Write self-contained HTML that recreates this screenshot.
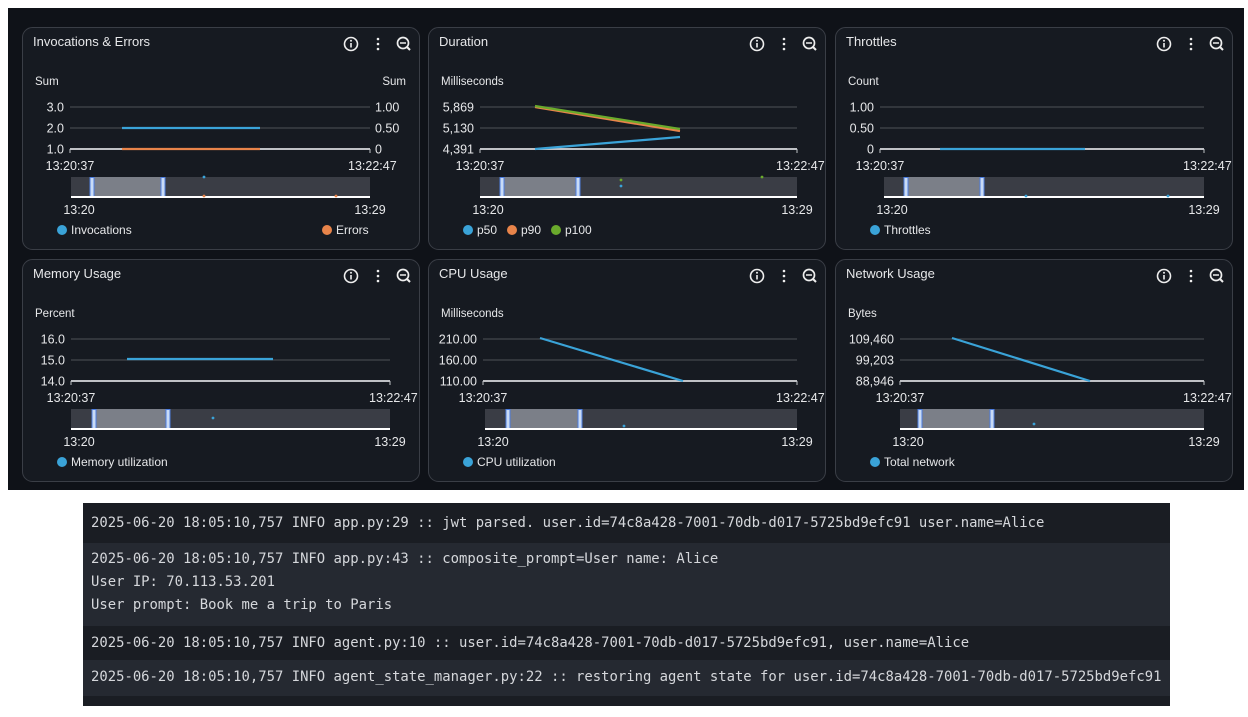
<!DOCTYPE html>
<html><head><meta charset="utf-8"><style>
html,body{margin:0;padding:0;background:#fff;width:1248px;height:717px;overflow:hidden}
svg{position:absolute;left:0;top:0}
.log{position:absolute;left:83px;top:503px;width:1087px;height:203px;background:#1a1d23;font-family:"DejaVu Sans Mono","Liberation Mono",monospace;font-size:13.9px;color:#d5d7db;overflow:hidden}
.r{position:absolute;left:0;width:1087px;padding-left:8px;box-sizing:border-box;white-space:pre}
</style></head><body>
<svg width="1248" height="490" id="s" font-family="Liberation Sans, sans-serif"></svg>
<div class="log">
<div class="r" style="top:0;height:40px;background:#1a1d23;line-height:40px">2025-06-20 18:05:10,757 INFO app.py:29 :: jwt parsed. user.id=74c8a428-7001-70db-d017-5725bd9efc91 user.name=Alice</div>
<div class="r" style="top:40px;height:83px;background:#252931;line-height:23px;padding-top:5px">2025-06-20 18:05:10,757 INFO app.py:43 :: composite_prompt=User name: Alice
User IP: 70.113.53.201
User prompt: Book me a trip to Paris</div>
<div class="r" style="top:123px;height:34px;background:#1a1d23;line-height:34px">2025-06-20 18:05:10,757 INFO agent.py:10 :: user.id=74c8a428-7001-70db-d017-5725bd9efc91, user.name=Alice</div>
<div class="r" style="top:157px;height:36px;background:#252931;line-height:34px">2025-06-20 18:05:10,757 INFO agent_state_manager.py:22 :: restoring agent state for user.id=74c8a428-7001-70db-d017-5725bd9efc91</div>
</div>
<script>
var s='<rect x="8" y="8" width="1236" height="482" fill="#0f1218"/>';
var B='#3aa3d8',O='#e8844a',G='#6aaa2c';
var P=[
 {x:22,y:27,t:'Invocations & Errors',u:'Sum',g0:70,g1:370,n0:71,n1:370,h0:92,h1:163,L:['3.0','2.0','1.0'],R:['1.00','0.50','0'],
  lines:[[122,128,260,128,B],[122,149,260,149,O]],leg:[[B,'Invocations',62],[O,'Errors',327]],dots:[[204,177,B],[204,196,O],[336,196,O]]},
 {x:428,y:27,t:'Duration',u:'Milliseconds',g0:480,g1:797,n0:480,n1:797,h0:502,h1:578,L:['5,869','5,130','4,391'],
  lines:[[535,107,680,131,O],[535,106,680,129,G],[535,149,680,137,B]],leg:[[B,'p50',468],[O,'p90',512],[G,'p100',556]],dots:[[621,180,G],[621,186,B],[762,177,G]]},
 {x:835,y:27,t:'Throttles',u:'Count',g0:880,g1:1204,n0:884,n1:1204,h0:906,h1:982,L:['1.00','0.50','0'],
  lines:[[940,149,1085,149,B]],leg:[[B,'Throttles',875]],dots:[[1026,196,B],[1168,196,B]]},
 {x:22,y:259,t:'Memory Usage',u:'Percent',g0:71,g1:390,n0:71,n1:390,h0:94,h1:168,L:['16.0','15.0','14.0'],
  lines:[[127,359,273,359,B]],leg:[[B,'Memory utilization',62]],dots:[[213,418,B]]},
 {x:428,y:259,t:'CPU Usage',u:'Milliseconds',g0:483,g1:797,n0:485,n1:797,h0:508,h1:580,L:['210.00','160.00','110.00'],
  lines:[[540,338,683,381,B]],leg:[[B,'CPU utilization',468]],dots:[[624,426,B]]},
 {x:835,y:259,t:'Network Usage',u:'Bytes',g0:900,g1:1204,n0:900,n1:1204,h0:920,h1:992,L:['109,460','99,203','88,946'],
  lines:[[952,338,1090,381,B]],leg:[[B,'Total network',875]],dots:[[1034,424,B]]}
];
P.forEach(function(p,i){
 var X=p.x,Y=p.y,W=397,H=222;
 s+='<clipPath id="c'+i+'"><rect x="'+X+'" y="'+Y+'" width="'+W+'" height="'+H+'" rx="10"/></clipPath>';
 s+='<rect x="'+(X+.5)+'" y="'+(Y+.5)+'" width="'+W+'" height="'+H+'" rx="10" fill="#161a21" stroke="#3a3e46"/>';
 s+='<g clip-path="url(#c'+i+')">';
 s+='<text x="'+(X+11)+'" y="'+(Y+19)+'" fill="#e6e7e9" font-size="13">'+p.t.replace('&','&amp;')+'</text>';
 var ix=X+W-68,iy=Y+17;
 s+='<circle cx="'+ix+'" cy="'+iy+'" r="6.5" fill="none" stroke="#eee" stroke-width="1.6"/><rect x="'+(ix-.8)+'" y="'+(iy-1)+'" width="1.6" height="4.5" fill="#eee"/><circle cx="'+ix+'" cy="'+(iy-3.3)+'" r="1" fill="#eee"/>';
 var dx=X+W-41;[-5,0,5].forEach(function(d){s+='<circle cx="'+dx+'" cy="'+(iy+d)+'" r="1.3" fill="#eee"/>'});
 var zx=X+W-16;s+='<circle cx="'+zx+'" cy="'+(iy-1)+'" r="5.5" fill="none" stroke="#eee" stroke-width="1.7"/><line x1="'+(zx+4)+'" y1="'+(iy+3)+'" x2="'+(zx+7)+'" y2="'+(iy+6)+'" stroke="#eee" stroke-width="2"/><line x1="'+(zx-3)+'" y1="'+(iy-1)+'" x2="'+(zx+3)+'" y2="'+(iy-1)+'" stroke="#eee" stroke-width="1.5"/>';
 s+='<text x="'+(X+13)+'" y="'+(Y+58)+'" fill="#e6e7e9" font-size="11.5">'+p.u+'</text>';
 if(p.R)s+='<text x="'+(X+W-13)+'" y="'+(Y+58)+'" fill="#e6e7e9" font-size="11.5" text-anchor="end">'+p.u+'</text>';
 [80,101,122].forEach(function(d,k){
  var gy=Y+d;
  s+='<line x1="'+p.g0+'" y1="'+gy+'" x2="'+p.g1+'" y2="'+gy+'" stroke="'+(k==2?'#bfc1c5':'#44474e')+'" stroke-width="'+(k==2?2:1.2)+'"/>';
  s+='<text x="'+(p.g0-6)+'" y="'+(gy+4.5)+'" fill="#e6e7e9" font-size="12.5" text-anchor="end">'+p.L[k]+'</text>';
  if(p.R)s+='<text x="'+(p.g1+5)+'" y="'+(gy+4.5)+'" fill="#e6e7e9" font-size="12.5">'+p.R[k]+'</text>';
 });
 s+='<line x1="'+p.g0+'" y1="'+(Y+122)+'" x2="'+p.g0+'" y2="'+(Y+126)+'" stroke="#bfc1c5"/><line x1="'+p.g1+'" y1="'+(Y+122)+'" x2="'+p.g1+'" y2="'+(Y+126)+'" stroke="#bfc1c5"/>';
 s+='<text x="'+p.g0+'" y="'+(Y+143)+'" fill="#e6e7e9" font-size="12.5" text-anchor="middle">13:20:37</text>';
 s+='<text x="'+(p.R?p.g1-22:p.g1-21)+'" y="'+(Y+143)+'" fill="#e6e7e9" font-size="12.5">13:22:47</text>';
 p.lines.forEach(function(l){s+='<line x1="'+l[0]+'" y1="'+l[1]+'" x2="'+l[2]+'" y2="'+l[3]+'" stroke="'+l[4]+'" stroke-width="2.2"/>'});
 var ny=Y+150;
 s+='<rect x="'+p.n0+'" y="'+ny+'" width="'+(p.n1-p.n0)+'" height="20" fill="#3a3d45"/>';
 s+='<rect x="'+p.h0+'" y="'+ny+'" width="'+(p.h1-p.h0)+'" height="20" fill="#7b7f88"/>';
 [p.h0,p.h1].forEach(function(h){s+='<rect x="'+(h-2)+'" y="'+(ny+.5)+'" width="4" height="19" fill="#c9dbf5" stroke="#4d7ee0" stroke-width="1"/>'});
 s+='<line x1="'+p.n0+'" y1="'+(ny+20)+'" x2="'+p.n1+'" y2="'+(ny+20)+'" stroke="#fff" stroke-width="2"/>';
 p.dots.forEach(function(d){s+='<circle cx="'+d[0]+'" cy="'+d[1]+'" r="1.4" fill="'+d[2]+'"/>'});
 s+='<text x="'+(p.n0+8)+'" y="'+(Y+187)+'" fill="#e6e7e9" font-size="12.5" text-anchor="middle">13:20</text>';
 s+='<text x="'+p.n1+'" y="'+(Y+187)+'" fill="#e6e7e9" font-size="12.5" text-anchor="middle">13:29</text>';
 p.leg.forEach(function(l){s+='<circle cx="'+l[2]+'" cy="'+(Y+203)+'" r="5" fill="'+l[0]+'"/><text x="'+(l[2]+9)+'" y="'+(Y+207)+'" fill="#e6e7e9" font-size="12">'+l[1]+'</text>'});
 s+='</g>';
});
document.getElementById('s').innerHTML=s;
</script>
</body></html>
